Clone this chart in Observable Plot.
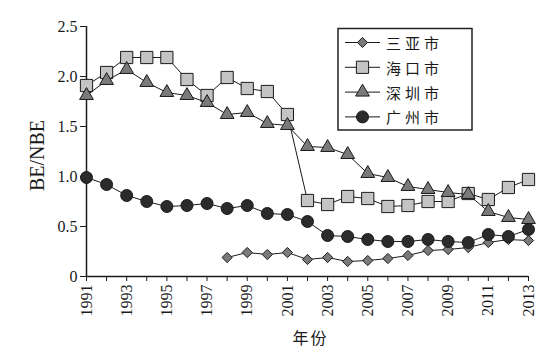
<!DOCTYPE html>
<html><head><meta charset="utf-8">
<script src="https://cdn.jsdelivr.net/npm/d3@7"></script>
<script src="https://cdn.jsdelivr.net/npm/@observablehq/plot@0.6"></script>
<style>
body{margin:0;background:#fff;}
#wrap{position:relative;width:548px;height:361px;background:#fff;}
#wrap svg text{font-family:"Liberation Serif","Times New Roman",serif;}
#wrap svg text.cjk{font-family:"Noto Sans CJK SC",sans-serif;}
</style></head><body><div id="wrap"></div>
<script>
// ---- data ----
const years = [1991,1992,1993,1994,1995,1996,1997,1998,1999,2000,2001,2002,2003,2004,2005,2006,2007,2008,2009,2010,2011,2012,2013];
const sanyaYears = [1998,1999,2000,2001,2002,2003,2004,2005,2006,2007,2008,2009,2010,2011,2012,2013];
const sanya = [0.19,0.24,0.22,0.24,0.17,0.19,0.15,0.16,0.18,0.21,0.26,0.27,0.29,0.34,0.37,0.36];
const haikou = [1.91,2.04,2.19,2.19,2.19,1.97,1.81,1.99,1.88,1.85,1.62,0.76,0.72,0.80,0.78,0.70,0.71,0.75,0.75,0.83,0.77,0.89,0.97];
const shenzhen = [1.81,1.96,2.07,1.94,1.84,1.81,1.74,1.62,1.64,1.53,1.51,1.30,1.29,1.22,1.03,0.99,0.90,0.87,0.84,0.82,0.65,0.59,0.57];
const guangzhou = [0.99,0.92,0.81,0.75,0.70,0.71,0.73,0.68,0.71,0.63,0.62,0.55,0.41,0.40,0.37,0.35,0.35,0.37,0.35,0.34,0.42,0.40,0.47];
const seriesNames = ["三亚市","海口市","深圳市","广州市"];
const xTicks = years;
const xTickLabels = ["1991","1993","1995","1997","1999","2001","2003","2005","2007","2009","2011","2013"];
const yTicks = [0,0.5,1,1.5,2,2.5];
const yTickLabels = ["0","0.5","1.0","1.5","2.0","2.5"];
const yTitle = "BE/NBE";
const xTitle = "年份";

// ---- build tables ----
const seriesData = [
  {name: seriesNames[0], rows: sanyaYears.map((y,i)=>({year:y, value:sanya[i]}))},
  {name: seriesNames[1], rows: years.map((y,i)=>({year:y, value:haikou[i]}))},
  {name: seriesNames[2], rows: years.map((y,i)=>({year:y, value:shenzhen[i]}))},
  {name: seriesNames[3], rows: years.map((y,i)=>({year:y, value:guangzhou[i]}))}
];
// styles
const styles = [
  {symbol: d3.symbolDiamond2, r: 4.6, fill: "#7a7a7a"},
  {symbol: d3.symbolSquare, r: 6.9, fill: "#c4c4c4"},
  {symbol: d3.symbolTriangle, r: 5.1, fill: "#7a7a7a"},
  {symbol: d3.symbolCircle, r: 6.0, fill: "#2b2b2b"}
];
const xLabelMap = new Map(xTickLabels.map(s => [+s, s]));
const yLabelMap = new Map(yTicks.map((t,i) => [t, yTickLabels[i]]));

const ink = "#1a1a1a";
const serif = '"Liberation Serif", "Times New Roman", serif';
const marks = [
  Plot.axisX(xTicks, {tickSize:5, tickPadding:3, tickRotate:-90, tickFormat: d => xLabelMap.get(d) ?? "", label:null, fontSize:16, fontFamily: serif, stroke: ink, fill: ink}),
  Plot.axisY(yTicks, {tickSize:6, tickPadding:3, tickFormat: d => yLabelMap.get(d), label:null, fontSize:16, fontFamily: serif, stroke: ink, fill: ink}),
  Plot.ruleX([years[0]], {y1:0, y2:2.5, stroke: ink, strokeWidth:1.5}),
  Plot.ruleY([0], {x1: years[0], x2: years[years.length-1], stroke: ink, strokeWidth:1.5})
];
seriesData.forEach((s, i) => {
  const st = styles[i];
  marks.push(Plot.line(s.rows, {x:"year", y:"value", stroke: ink, strokeWidth:1}));
  marks.push(Plot.dot(s.rows, {x:"year", y:"value", symbol: st.symbol, r: st.r, fill: st.fill, stroke: ink, strokeWidth:1}));
});
marks.push(Plot.text([yTitle], {text: d=>d, frameAnchor:"left", textAnchor:"middle", lineAnchor:"middle", dx:-49, dy:4, rotate:-90, fontSize:20, fontFamily: serif, fill: ink}));
marks.push(Plot.text([xTitle], {text: d=>d, frameAnchor:"bottom", textAnchor:"middle", lineAnchor:"middle", dx:3, dy:62, fontSize:16, fontFamily:"Noto Sans CJK SC", fill: ink}));

const chart = Plot.plot({
  width:548, height:361,
  marginLeft:86, marginRight:20, marginTop:26, marginBottom:85,
  x:{domain:[1991,2013]},
  y:{domain:[0,2.5]},
  style:{fontFamily: serif, fontSize:"16px", color: ink, background:"#fff", overflow:"visible"},
  marks
});
const wrap = document.getElementById("wrap");
wrap.appendChild(chart);
// the x title is Chinese text
d3.select(chart).selectAll("text").filter(function(){ return this.textContent === xTitle; })
  .attr("class","cjk").attr("letter-spacing",2);

// ---- legend ----
const leg = d3.select(wrap).append("svg")
  .attr("width",548).attr("height",361)
  .style("position","absolute").style("left","0").style("top","0");
leg.append("rect").attr("x",338).attr("y",28.5).attr("width",134).attr("height",101.5)
  .attr("fill","#fff").attr("stroke","#222").attr("stroke-width",1.5);
seriesNames.forEach((name, i) => {
  const cy = 42.5 + i*24.8;
  const st = styles[i];
  leg.append("line").attr("x1",345).attr("x2",380).attr("y1",cy).attr("y2",cy).attr("stroke",ink).attr("stroke-width",1);
  leg.append("path").attr("transform",`translate(362.5,${cy})`)
    .attr("d", d3.symbol(st.symbol, Math.PI*st.r*st.r)())
    .attr("fill", st.fill).attr("stroke", ink).attr("stroke-width",1);
  leg.append("text").attr("class","cjk").attr("x",386).attr("y",cy).attr("dominant-baseline","central")
    .attr("font-size",15).attr("letter-spacing",4)
    .attr("fill",ink).text(name);
});
</script></body></html>
